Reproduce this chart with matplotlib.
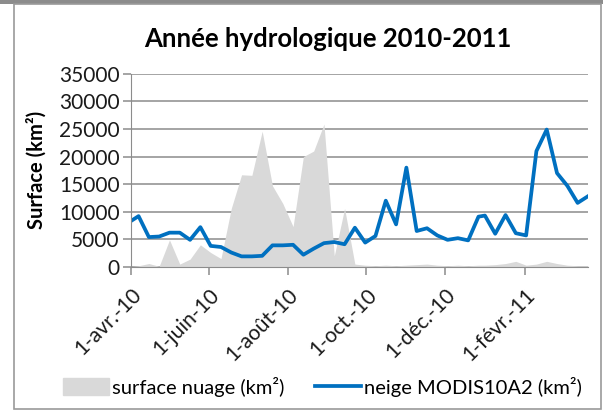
import numpy as np
import pandas as pd
import matplotlib
matplotlib.use('Agg')
import matplotlib.pyplot as plt
from matplotlib.lines import Line2D
from matplotlib.patches import Rectangle

plt.rcParams['font.family'] = ['Lato', 'DejaVu Sans']

# jours juliens de début des composites MODIS 8 jours
jours_2010 = [89, 97, 105, 113, 121, 129, 137, 145, 153, 161, 169, 177,
              185, 193, 201, 209, 217, 225, 233, 241, 249, 257, 265, 273,
              281, 289, 297, 305, 313, 321, 329, 337, 345, 353, 361]
jours_2011 = [1, 9, 17, 25, 33, 41, 49, 57, 65, 73, 81]

# surface nuageuse (km²)
nuage = [0, 200, 600, 100, 4900, 500, 1400, 4000, 2600, 1500, 10600, 16700,
         16600, 24600, 14700, 11500, 7300, 20000, 21000, 25900, 2000, 10600,
         500, 300, 200, 300, 200, 300, 400, 500, 300, 200, 300, 200, 300,
         300, 400, 600, 1000, 300, 500, 1000, 600, 300, 200, 200]

# surface enneigée MODIS10A2 (km²)
neige = [8000, 9200, 5400, 5500, 6200, 6200, 4900, 7200, 3800, 3600, 2600,
         1900, 1900, 2000, 3900, 3900, 4000, 2200, 3300, 4300, 4500, 4100,
         7100, 4400, 5600, 12000, 7700, 18000, 6500, 7000, 5700, 4900, 5200,
         4800, 9100, 9300, 6000, 9400, 6100, 5700, 21000, 24900, 17000,
         14700, 11600, 12800]

tick_dates = ['2010-04-01', '2010-06-01', '2010-08-01', '2010-10-01',
              '2010-12-01', '2011-02-01']
tick_labels = ['1-avr.-10', '1-juin-10', '1-août-10', '1-oct.-10',
               '1-déc.-10', '1-févr.-11']
y_ticks = [0, 5000, 10000, 15000, 20000, 25000, 30000, 35000]

dates = (list(pd.Timestamp('2009-12-31') + pd.to_timedelta(jours_2010, unit='D'))
         + list(pd.Timestamp('2010-12-31') + pd.to_timedelta(jours_2011, unit='D')))
dates = pd.to_datetime(dates)

bleu = '#0070C0'
gris = '#D9D9D9'
grille = '#8C8C8C'

fig = plt.figure(figsize=(6.03, 4.15), dpi=100)
ax = fig.add_axes([0.217, 0.357, 0.758, 0.465])

ax.fill_between(dates, 0, nuage, color=gris, lw=0)
ax.plot(dates, neige, color=bleu, lw=2.7, solid_joinstyle='round')

ax.set_xlim(pd.Timestamp('2010-04-01'), dates[-1])
ax.set_ylim(0, 35000)
ax.set_yticks(y_ticks)
ax.set_yticklabels([str(v) for v in y_ticks])
ax.yaxis.grid(True, color=grille, lw=1.1)
ax.set_axisbelow(True)

ax.set_xticks(pd.to_datetime(tick_dates))
ax.set_xticklabels(tick_labels, rotation=45, ha='right', va='top',
                   rotation_mode='anchor')

for s in ['top', 'right']:
    ax.spines[s].set_visible(False)
ax.spines['left'].set_color(grille)
ax.spines['bottom'].set_color(grille)
ax.tick_params(axis='both', colors=grille, labelcolor='#1a1a1a',
               labelsize=15, length=6, width=1.1)
ax.tick_params(axis='y', pad=2)
ax.tick_params(axis='x', pad=7)

ax.set_ylabel('Surface (km²)', fontsize=14.5, fontweight='bold', labelpad=9)
fig.text(0.543, 0.905, 'Année hydrologique 2010-2011', ha='center',
         va='center', fontsize=18.5, fontweight='bold')

handles = [Rectangle((0, 0), 1, 1, color=gris),
           Line2D([0], [0], color=bleu, lw=2.7)]
fig.legend(handles, ['surface nuage (km²)', 'neige MODIS10A2 (km²)'],
           loc='center', bbox_to_anchor=(0.535, 0.068), ncol=2, frameon=False,
           fontsize=14.5, handlelength=2.3, handleheight=0.9,
           handletextpad=0.15, columnspacing=1.5)

# cadre du graphique
fig.add_artist(Rectangle((0, 1 - 4 / 415), 1, 4 / 415,
                         transform=fig.transFigure, color='#8C8C8C', lw=0))
fig.add_artist(Rectangle((14 / 603, 6 / 415), 587 / 603, 405 / 415,
                         transform=fig.transFigure, fill=False,
                         edgecolor='#9A9A9A', lw=1.2))

fig.savefig('out.png', dpi=100)
